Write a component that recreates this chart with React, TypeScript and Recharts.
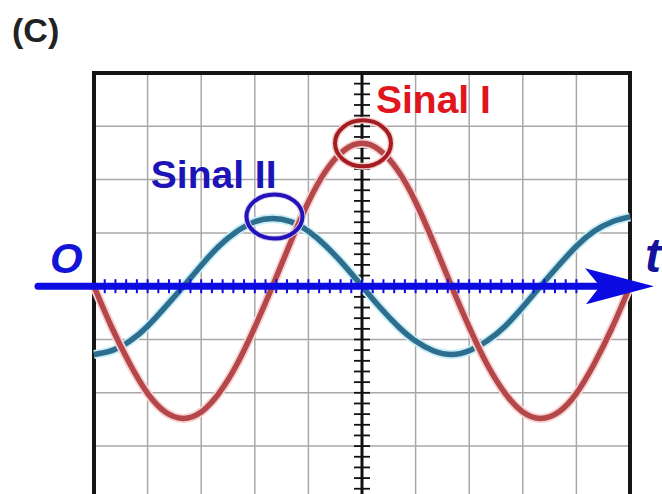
import React from "react";
import {
  LineChart,
  Line,
  XAxis,
  YAxis,
  CartesianGrid,
  ReferenceLine,
  ReferenceDot,
  ReferenceArea,
} from "recharts";

// time in screen divisions (10 divisions across the screen)
const tDiv = [
  0, 0.33, 0.67, 1, 1.33, 1.67, 2, 2.33, 2.67, 3, 3.33, 3.67, 4, 4.33, 4.67, 5,
  5.33, 5.67, 6, 6.33, 6.67, 7, 7.33, 7.67, 8, 8.33, 8.67, 9, 9.33, 9.67, 10,
];

// Sinal I (red) in vertical divisions
const sinalI = [
  0, -0.77, -1.46, -2.01, -2.36, -2.48, -2.36, -2.01, -1.46, -0.77, 0, 0.83,
  1.58, 2.17, 2.55, 2.68, 2.55, 2.17, 1.58, 0.83, 0, -0.77, -1.46, -2.01,
  -2.36, -2.48, -2.36, -2.01, -1.46, -0.77, 0,
];

// Sinal II (teal) in vertical divisions
const sinalII = [
  -1.28, -1.21, -1.03, -0.75, -0.39, 0, 0.39, 0.75, 1.03, 1.21, 1.27, 1.21,
  1.03, 0.75, 0.39, 0, -0.39, -0.75, -1.03, -1.21, -1.28, -1.21, -1.03, -0.75,
  -0.39, 0, 0.39, 0.75, 1.03, 1.21, 1.3,
];

const xTicks = [0, 1, 2, 3, 4, 5, 6, 7, 8, 9, 10];
const yTicks = [-4, -3, -2, -1, 0, 1, 2, 3, 4];

const labelI = "Sinal I";
const labelII = "Sinal II";
const originLabel = "O";
const timeLabel = "t";
const panelLabel = "(C)";

const peakI = 15;
const peakII = 10;

const data = tDiv.map((t, i) => ({ t, s1: sinalI[i], s2: sinalII[i] }));

const FONT = "'Liberation Sans', Arial, sans-serif";
const AXIS_BLUE = "#0b0be2";

// Blue time axis with minor ticks, arrow head and labels
const TimeAxis = (p: any) => {
  const x1 = Math.min(p.x1, p.x2);
  const x2 = Math.max(p.x1, p.x2);
  const y = p.y1;
  const u = (x2 - x1) / 10;
  const ticks: React.ReactNode[] = [];
  for (let i = 1; i < 50; i++) {
    const x = x1 + (i * u) / 5;
    if (x > x2 - 44) break;
    ticks.push(
      <line key={i} x1={x} x2={x} y1={y - 7} y2={y + 7} stroke={AXIS_BLUE} strokeWidth={2} />
    );
  }
  return (
    <g>
      <line x1={x1 - 56} x2={x2 - 10} y1={y} y2={y} stroke={AXIS_BLUE} strokeWidth={7} strokeLinecap="round" />
      {ticks}
      <polygon
        points={`${x2 - 45},${y - 18} ${x2 + 24},${y} ${x2 - 44},${y + 18} ${x2 - 30},${y}`}
        fill={AXIS_BLUE}
      />
      <text x={x1 - 44} y={y - 13} fontFamily={FONT} fontWeight="bold" fontStyle="italic" fontSize={42} fill="#1414d6">
        {originLabel}
      </text>
      <text x={x2 + 15} y={y - 14} fontFamily={FONT} fontWeight="bold" fontStyle="italic" fontSize={48} fill="#12129c">
        {timeLabel}
      </text>
    </g>
  );
};

// Black centre graticule line with minor ticks
const CentreAxis = (p: any) => {
  const x = p.x1;
  const top = Math.min(p.y1, p.y2);
  const bottom = Math.max(p.y1, p.y2);
  const u = (bottom - top) / 8;
  const ticks: React.ReactNode[] = [];
  for (let i = 1; i < 40; i++) {
    const y = top + (i * u) / 5;
    ticks.push(
      <line key={i} x1={x - 8} x2={x + 8} y1={y} y2={y} stroke="#111" strokeWidth={1.8} />
    );
  }
  return (
    <g>
      <line x1={x} x2={x} y1={top} y2={bottom} stroke="#111" strokeWidth={3} />
      {ticks}
    </g>
  );
};

const MarkI = (p: any) => (
  <g>
    <ellipse cx={p.cx + 1} cy={p.cy} rx={28} ry={23} fill="none" stroke="#f4cfcf" strokeWidth={7} />
    <ellipse cx={p.cx + 1} cy={p.cy} rx={28} ry={23} fill="none" stroke="#a41d22" strokeWidth={4} />
    <text x={p.cx + 14} y={p.cy - 30} fontFamily={FONT} fontWeight="bold" fontSize={39} fill="#e0161c">
      {labelI}
    </text>
  </g>
);

const MarkII = (p: any) => (
  <g>
    <ellipse cx={p.cx + 2} cy={p.cy - 2} rx={28} ry={22} fill="none" stroke="#d2cff4" strokeWidth={6} />
    <ellipse cx={p.cx + 2} cy={p.cy - 2} rx={28} ry={22} fill="none" stroke="#2412b6" strokeWidth={4} />
    <text x={p.cx + 4} y={p.cy - 31} textAnchor="end" fontFamily={FONT} fontWeight="bold" fontSize={39} fill="#1d14b8">
      {labelII}
    </text>
  </g>
);

export default function App() {
  return (
    <div
      style={{
        position: "absolute",
        left: 0,
        top: 0,
        width: 662,
        height: 494,
        overflow: "hidden",
        background: "#fff",
      }}
    >
      <svg width={120} height={60} style={{ position: "absolute", left: 0, top: 0 }}>
        <text x={12} y={42} fontFamily={FONT} fontWeight="bold" fontSize={34} fill="#222">
          {panelLabel}
        </text>
      </svg>
      <div style={{ position: "absolute", left: 0, top: 0 }}>
        <LineChart
          width={662}
          height={510}
          data={data}
          margin={{ top: 73, left: 94, right: 32, bottom: 10.6 }}
        >
          <XAxis dataKey="t" type="number" domain={[0, 10]} ticks={xTicks} hide />
          <YAxis type="number" domain={[-4, 4]} ticks={yTicks} hide />
          <CartesianGrid stroke="#a8a8a8" strokeWidth={1.5} />
          <ReferenceLine x={5} ifOverflow="visible" shape={CentreAxis} />
          <Line type="natural" dataKey="s2" stroke="#c8edf7" strokeWidth={9} dot={false} activeDot={false} isAnimationActive={false} />
          <Line type="natural" dataKey="s2" stroke="#2d6d8d" strokeWidth={5.5} dot={false} activeDot={false} isAnimationActive={false} />
          <Line type="natural" dataKey="s1" stroke="#f6d2d2" strokeWidth={9} dot={false} activeDot={false} isAnimationActive={false} />
          <Line type="natural" dataKey="s1" stroke="#b4474a" strokeWidth={5.5} dot={false} activeDot={false} isAnimationActive={false} />
          <ReferenceLine y={0} ifOverflow="visible" shape={TimeAxis} />
          <ReferenceDot x={tDiv[peakI]} y={sinalI[peakI]} ifOverflow="visible" shape={MarkI} />
          <ReferenceDot x={tDiv[peakII]} y={sinalII[peakII]} ifOverflow="visible" shape={MarkII} />
          <ReferenceArea x1={0} x2={10} y1={-4} y2={4} fill="none" stroke="#161616" strokeWidth={4} ifOverflow="visible" />
        </LineChart>
      </div>
    </div>
  );
}
